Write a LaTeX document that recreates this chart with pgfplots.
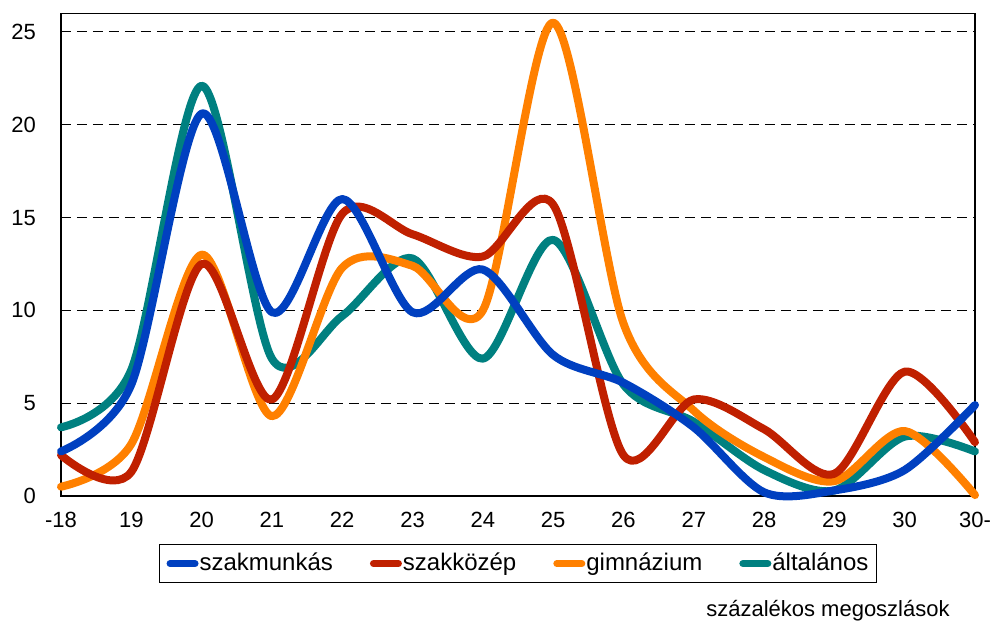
\documentclass[border=0pt]{standalone}
\usepackage{fontspec}
\setmainfont{Liberation Sans}
\usepackage{pgfplots}
\pgfplotsset{compat=1.18}
\definecolor{cblue}{RGB}{0,64,192}
\definecolor{cred}{RGB}{192,32,0}
\definecolor{corange}{RGB}{255,128,0}
\definecolor{cteal}{RGB}{0,128,128}
\begin{document}
\begin{tikzpicture}
\path[use as bounding box] (-30.5pt,-62.5pt) rectangle (465pt,248pt);
\begin{axis}[
  scale only axis,
  width=457pt, height=241.3pt,
  xmin=0, xmax=13, ymin=0, ymax=26,
  xtick={0,...,13},
  xticklabels={-18,19,20,21,22,23,24,25,26,27,28,29,30,30-},
  ytick={0,5,10,15,20,25},
  major tick length=0pt,
  ymajorgrids,
  grid style={black, dash pattern=on 5pt off 3pt, line width=0.5pt},
  axis line style={black, line width=0.6pt},
  tick label style={font=\fontsize{11}{13}\selectfont},
  /pgf/number format/assume math mode=true,
  xticklabel style={yshift=-4.5pt},
  yticklabel style={xshift=-9pt},
  clip=false,
  reverse legend,
  legend columns=4,
  legend style={at={(0.5,-0.14)}, anchor=center, draw=black, line width=0.6pt,
    font=\fontsize{12}{14}\selectfont,
    inner xsep=3.5pt, inner ysep=2.5pt,
    nodes={inner xsep=0.5pt},
    /tikz/every odd column/.append style={column sep=0pt},
    /tikz/every even column/.append style={column sep=18pt}},
  legend image code/.code={\draw[line width=3.5pt, line cap=round] (1.75pt,0pt) -- (14.25pt,0pt);},
  every axis plot/.append style={line width=4pt, smooth, line cap=round, line join=round, no markers},
]
\addplot[cteal] coordinates {(0,3.7) (1,6.8) (2,22.1) (3,7.4) (4,9.7) (5,12.8) (6,7.4) (7,13.8) (8,6.0) (9,4.0) (10,1.4) (11,0.3) (12,3.2) (13,2.4)};
\addlegendentry{általános\hspace{10pt}}
\addplot[corange] coordinates {(0,0.5) (1,2.8) (2,13.0) (3,4.3) (4,12.3) (5,12.4) (6,10.0) (7,25.5) (8,9.3) (9,4.6) (10,2.1) (11,0.8) (12,3.5) (13,0.05)};
\addlegendentry{gimnázium}
\addplot[cred] coordinates {(0,2.2) (1,1.3) (2,12.5) (3,5.2) (4,15.2) (5,14.1) (6,12.9) (7,15.7) (8,2.2) (9,5.2) (10,3.6) (11,1.2) (12,6.7) (13,2.9)};
\addlegendentry{szakközép}
\addplot[cblue] coordinates {(0,2.4) (1,6.0) (2,20.6) (3,9.9) (4,16.0) (5,9.9) (6,12.2) (7,7.6) (8,6.1) (9,3.7) (10,0.2) (11,0.3) (12,1.4) (13,4.9)};
\addlegendentry{szakmunkás}
\node[anchor=base east, font=\fontsize{11}{13}\selectfont] at (rel axis cs:0.980,-0.2487) {százalékos megoszlások};
\end{axis}
\end{tikzpicture}
\end{document}
